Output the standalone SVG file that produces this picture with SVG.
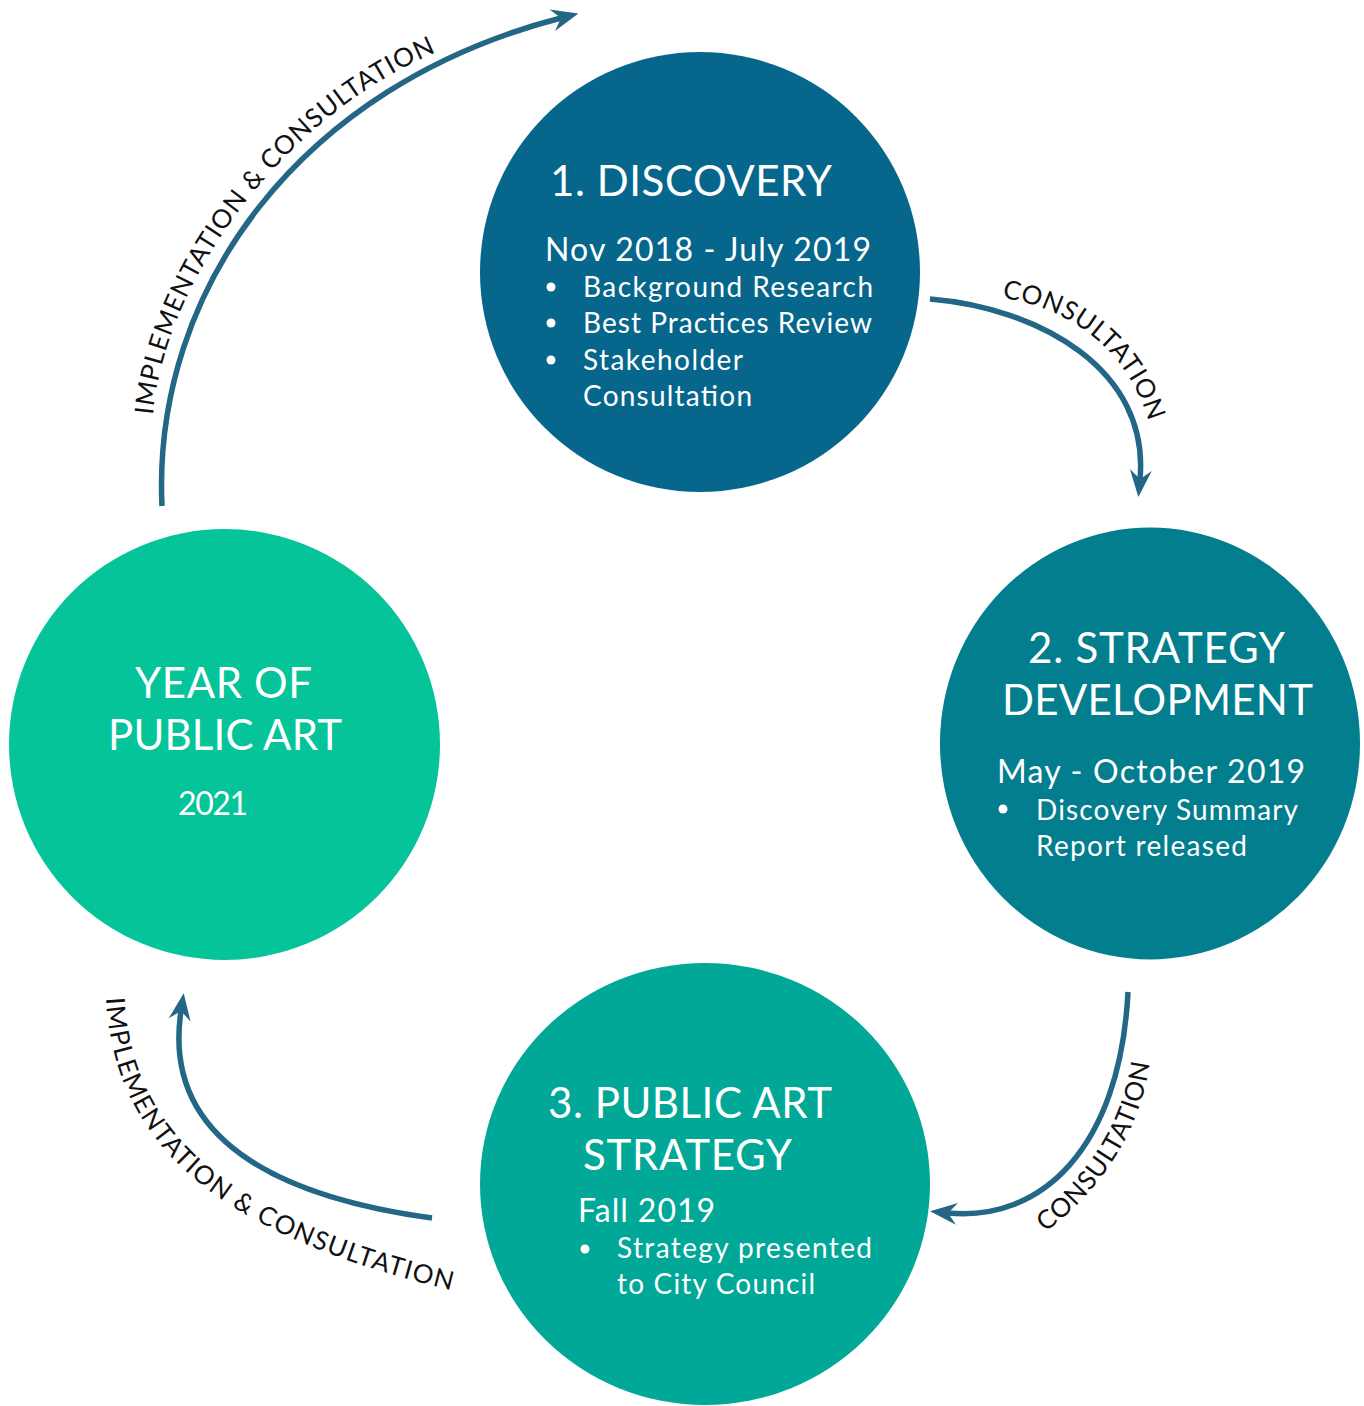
<svg xmlns="http://www.w3.org/2000/svg" width="1364" height="1406" viewBox="0 0 1364 1406">
<style>
.t{font-family:Lato,"Liberation Sans",sans-serif;fill:#fff;font-weight:400}
.h{font-size:42px}
.d{font-size:32px}
.b{font-size:28px}
.c{font-family:Lato,"Liberation Sans",sans-serif;fill:#111;font-size:26px;font-weight:400}
.arr{fill:none;stroke:#246685;stroke-width:5.5;marker-end:url(#ah)}
.bul{fill:#fff}
</style>
<defs>
<marker id="ah" markerUnits="userSpaceOnUse" viewBox="-10 -12 32 24" refX="0" refY="0" markerWidth="32" markerHeight="24" orient="auto">
<path d="M18,0 L-9,-11 L0,0 L-9,11 Z" fill="#246685"/>
</marker>
<path id="p1" d="M153,415 C163,290 275,120 437,52"/>
<path id="p2" d="M1002,298 C1070,308 1130,350 1150,427"/>
<path id="p3" d="M1045,1232 C1090,1200 1140,1140 1150,1060"/>
<path id="p4" d="M106,998 C115,1160 240,1240 458,1292"/>
</defs>
<g id="connectors">
<path class="arr" d="M162,506 C152,290 300,85 561,18"/>
<path class="arr" d="M930,299 C1040,308 1150,370 1140,479"/>
<path class="arr" d="M1128,992 C1120,1150 1040,1222 948,1213"/>
<path class="arr" d="M432,1218 C300,1200 160,1150 181,1011"/>
<text class="c"><textPath href="#p1" textLength="480" lengthAdjust="spacing">IMPLEMENTATION &amp; CONSULTATION</textPath></text>
<text class="c"><textPath href="#p2" textLength="203" lengthAdjust="spacing">CONSULTATION</textPath></text>
<text class="c"><textPath href="#p3" textLength="204" lengthAdjust="spacing">CONSULTATION</textPath></text>
<text class="c"><textPath href="#p4" textLength="490" lengthAdjust="spacing">IMPLEMENTATION &amp; CONSULTATION</textPath></text>
</g>
<g id="node-discovery">
<circle cx="700" cy="272" r="220" fill="#06668C"/>
<text class="t h" x="550" y="196" textLength="282">1. DISCOVERY</text>
<text class="t d" x="545" y="261" textLength="326">Nov 2018 - July 2019</text>
<circle class="bul" cx="551" cy="287" r="4.5"/>
<circle class="bul" cx="551" cy="323" r="4.5"/>
<circle class="bul" cx="551" cy="360" r="4.5"/>
<text class="t b" x="583" y="297" textLength="290">Background Research</text>
<text class="t b" x="583" y="333" textLength="289">Best Practices Review</text>
<text class="t b" x="583" y="370" textLength="160">Stakeholder</text>
<text class="t b" x="583" y="406" textLength="169">Consultation</text>
</g>
<g id="node-strategy">
<ellipse cx="1150" cy="743.5" rx="210" ry="216" fill="#037E8E"/>
<text class="t h" x="1028" y="663" textLength="257">2. STRATEGY</text>
<text class="t h" x="1002" y="715" textLength="311">DEVELOPMENT</text>
<text class="t d" x="997" y="783" textLength="308">May - October 2019</text>
<circle class="bul" cx="1003" cy="809" r="4.5"/>
<text class="t b" x="1036" y="820" textLength="262">Discovery Summary</text>
<text class="t b" x="1036" y="856" textLength="211">Report released</text>
</g>
<g id="node-public-art-strategy">
<ellipse cx="705" cy="1184" rx="225" ry="221" fill="#01A897"/>
<text class="t h" x="548" y="1118" textLength="284">3. PUBLIC ART</text>
<text class="t h" x="583" y="1170" textLength="209">STRATEGY</text>
<text class="t d" x="578" y="1222" textLength="137">Fall 2019</text>
<circle class="bul" cx="585" cy="1249" r="4.5"/>
<text class="t b" x="617" y="1258" textLength="255">Strategy presented</text>
<text class="t b" x="617" y="1294" textLength="198">to City Council</text>
</g>
<g id="node-year">
<circle cx="224.5" cy="744.5" r="215.5" fill="#05C49A"/>
<text class="t h" x="135" y="698" textLength="177">YEAR OF</text>
<text class="t h" x="108" y="750" textLength="234">PUBLIC ART</text>
<text class="t d" x="178" y="815" textLength="70">2021</text>
</g>
</svg>
